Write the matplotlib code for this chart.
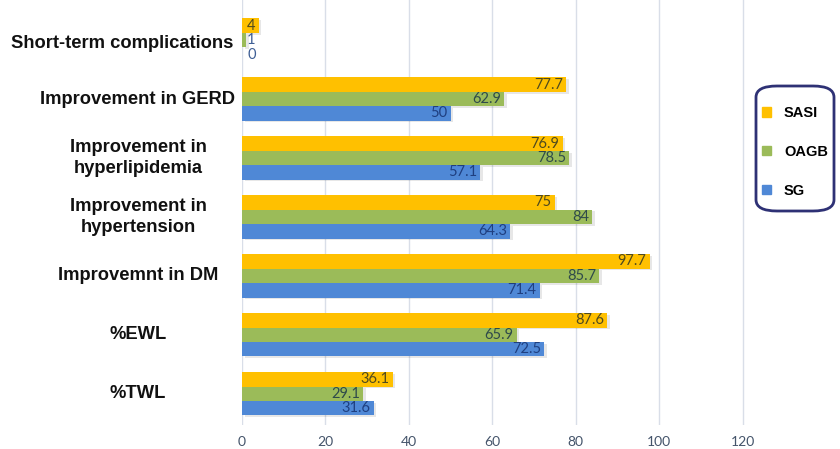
import matplotlib
matplotlib.use("Agg")
import matplotlib.pyplot as plt
from matplotlib.patches import FancyBboxPatch
import matplotlib.transforms as mtransforms
import numpy as np

categories = ["Short-term complications", "Improvement in GERD",
              "Improvement in\nhyperlipidemia", "Improvement in\nhypertension",
              "Improvemnt in DM", "%EWL", "%TWL"]
series_names = ["SASI", "OAGB", "SG"]
sasi = [4, 77.7, 76.9, 75, 97.7, 87.6, 36.1]
oagb = [1, 62.9, 78.5, 84, 85.7, 65.9, 29.1]
sg = [0, 50, 57.1, 64.3, 71.4, 72.5, 31.6]
xticks = [0, 20, 40, 60, 80, 100, 120]

colors = ["#FFC000", "#9BBB59", "#4F88D6"]
label_colors = ["#4F4A1E", "#2F4A4A", "#1F3F80"]

fig = plt.figure(figsize=(8.4, 4.49), dpi=100)
ax = fig.add_axes([242/840, 1 - 425/449, (826-242)/840, 425/449])
ax.set_xlim(0, 140)
ax.set_ylim(6.53, -0.68)

y = np.arange(len(categories))
h = 0.245
series = [sasi, oagb, sg]
offsets = [-h, 0, h]
for vals, off, c, lc in zip(series, offsets, colors, label_colors):
    ax.barh(y + off, vals, height=h, color=c, zorder=3)
    # subtle shadow
    ax.barh(y + off + 0.03, vals, height=h, left=0.6, color="#00000018", zorder=2)
    for yi, v in zip(y, vals):
        if v >= 10:
            ax.text(v - 0.8, yi + off, f"{v:g}", ha="right", va="center",
                    fontsize=10.5, color=lc, family="Lato", zorder=4)
        else:
            ax.text(1.2, yi + off, f"{v:g}", ha="left", va="center",
                    fontsize=10.5, color=(lc if c == colors[0] else "#3F5F95"),
                    family="Lato", zorder=4)

ax.set_xticks(xticks)
ax.set_xticklabels([str(t) for t in xticks], family="Lato", fontsize=10, color="#44546A")
ax.set_yticks([])
ax.tick_params(axis="x", length=0, pad=8)
ax.grid(axis="x", color="#D9DEE8", linewidth=1, zorder=0)
for s in ax.spines.values():
    s.set_visible(False)

trans = mtransforms.blended_transform_factory(fig.transFigure, ax.transData)
for yi, cat in zip(y, categories):
    if yi == 0:
        ax.text(233/840, yi + 0.05, cat, transform=trans, ha="right", va="center",
                fontsize=13.2, fontweight="bold", family="Liberation Sans", color="#111111")
    else:
        ax.text(138/840, yi, cat, transform=trans, ha="center", va="center",
                multialignment="center", linespacing=1.3,
                fontsize=13.2, fontweight="bold", family="Liberation Sans", color="#111111")

# legend
box = FancyBboxPatch((756/840, 1 - 211/449), 78/840, 125/449,
                     boxstyle="round,pad=0,rounding_size=0.025", transform=fig.transFigure,
                     facecolor="white", edgecolor="#2E3175", linewidth=2, zorder=5)
fig.patches.append(box)
handles = [plt.Rectangle((0, 0), 1, 1, color=c) for c in colors]
leg = fig.legend(handles, series_names, loc="center", bbox_to_anchor=(795/840, 1 - 152/449),
                 frameon=False, handlelength=0.6, handleheight=0.6, labelspacing=1.7,
                 handletextpad=0.9, prop={"family": "Liberation Sans", "weight": "bold", "size": 10.5})
leg.set_zorder(6)

fig.savefig("out.png", dpi=100)
